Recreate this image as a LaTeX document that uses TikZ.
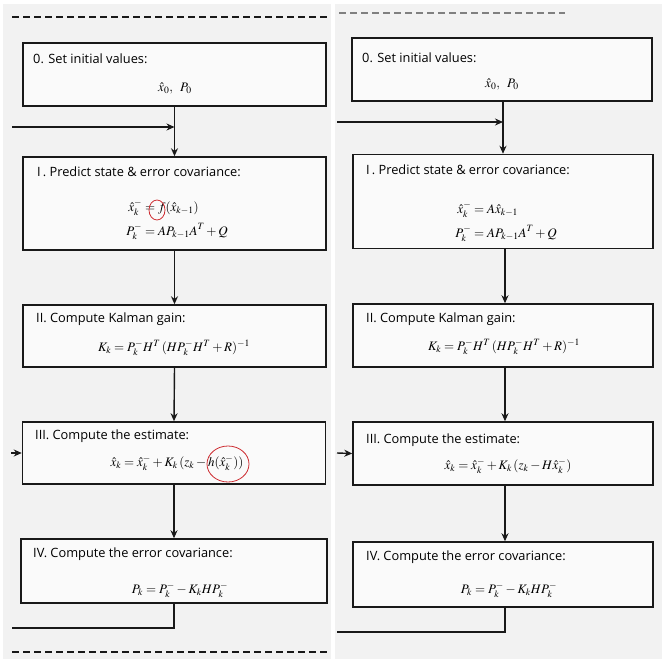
\documentclass[tikz,border=0pt]{standalone}
\usepackage{amsmath}
\usepackage{mathptmx}
\usepackage{fontspec}
\setsansfont{Open Sans}
\usetikzlibrary{arrows.meta,positioning}

\definecolor{paper}{gray}{0.95}
\definecolor{ink}{gray}{0.1}
\definecolor{pen}{RGB}{205,45,50}

\tikzset{
  stage/.style={draw=ink,line width=1.5pt,fill=white!60!paper,minimum width=303pt,inner sep=0pt},
  head/.style={anchor=west,inner sep=0pt,font=\sffamily\fontsize{12.8}{15}\selectfont},
  eq/.style={inner sep=0pt,font=\fontsize{13}{15}\selectfont},
  flow/.style={draw=ink,line width=1.4pt,-{Stealth[length=8pt,width=7pt]}},
  wire/.style={draw=ink,line width=1.4pt},
  cut/.style={draw=ink,line width=1.2pt,dash pattern=on 7pt off 4pt},
}

\begin{document}
\begin{tikzpicture}[x=1pt,y=-1pt]
    \useasboundingbox (0,0) rectangle (665,665);
    \fill[white] (0,0) rectangle (665,665);
    % the two scanned pages
    \fill[paper] (3,4) rectangle (331,659);
    \fill[paper] (335,4) rectangle (662,659);

    %% left page (EKF)
    \draw[cut] (12,17) -- (328,17);
    \draw[cut] (12,652) -- (328,652);

    \node[stage,minimum height=63pt] (L0) at (174.5,74.5) {};
    \node[stage,minimum height=93pt] (L1) at (174.5,203.5) {};
    \node[stage,minimum height=62pt] (L2) at (174.5,336) {};
    \node[stage,minimum height=62pt] (L3) at (174,453) {};
    \node[stage,minimum height=64pt,minimum width=306pt] (L4) at (174,571) {};

    \node[head] (L0h) at (33,59) {0. Set initial values:};
    \node[eq] (L0e) at (175,88) {$\hat{x}_0,\;\;P_0$};
    \node[head] (L1h) at (37,172) {I\,. Predict state \& error covariance:};
    \node[eq] (L1e) at (177,220) {$\begin{aligned}\hat{x}_k^- &= f(\hat{x}_{k-1})\\[4pt] P_k^- &= AP_{k-1}A^T+Q\end{aligned}$};
    \node[head] (L2h) at (36,319) {II. Compute Kalman gain:};
    \node[eq] (L2e) at (174,348) {$K_k=P_k^-H^T\,(HP_k^-H^T+R)^{-1}$};
    \node[head] (L3h) at (35,436) {III. Compute the estimate:};
    \node[eq] (L3e) at (177,463) {$\hat{x}_k=\hat{x}_k^-+K_k\,(z_k-h(\hat{x}_k^-))$};
    \node[head] (L4h) at (33,554) {IV. Compute the error covariance:};
    \node[eq] (L4e) at (180,590) {$P_k=P_k^- -K_kHP_k^-$};

    % red pen marks
    \draw[pen,line width=0.8pt] (157,210) ellipse (8pt and 10pt);
    \draw[pen,line width=0.8pt] (228,464) ellipse (21pt and 18pt);

    \coordinate (Lin) at (12,127);
    \coordinate (Lback) at (12,628);
    \coordinate (Lfeed) at (11,453);
    \draw[flow] (L0.south) -- (L1.north);
    \draw[flow] (Lin) -- (Lin -| L0.south);
    \draw[flow] (L1.south) -- (L2.north);
    \draw[flow] (L2.south) -- (L3.north);
    \draw[flow] (L3.south) -- (L4.north);
    \draw[flow] (Lfeed) -- (L3.west);
    \draw[wire] (L4.south) |- (Lback);

    %% right page (linear KF)
    \draw[cut,draw=gray] (339,13) -- (565,13);

    \node[stage,minimum height=63pt,minimum width=300pt] (R0) at (502,69.5) {};
    \node[stage,minimum height=94pt,minimum width=300pt] (R1) at (503,201.5) {};
    \node[stage,minimum height=63pt,minimum width=300pt] (R2) at (503,335.5) {};
    \node[stage,minimum height=63pt,minimum width=300pt] (R3) at (503,453.5) {};
    \node[stage,minimum height=65pt,minimum width=300pt] (R4) at (503,574.5) {};

    \node[head] (R0h) at (362,58) {0. Set initial values:};
    \node[eq] (R0e) at (502,84) {$\hat{x}_0,\;\;P_0$};
    \node[head] (R1h) at (366,170) {I\,. Predict state \& error covariance:};
    \node[eq] (R1e) at (506,222) {$\begin{aligned}\hat{x}_k^- &= A\hat{x}_{k-1}\\[4pt] P_k^- &= AP_{k-1}A^T+Q\end{aligned}$};
    \node[head] (R2h) at (366,319) {II. Compute Kalman gain:};
    \node[eq] (R2e) at (504,347) {$K_k=P_k^-H^T\,(HP_k^-H^T+R)^{-1}$};
    \node[head] (R3h) at (366,440) {III. Compute the estimate:};
    \node[eq] (R3e) at (508,466) {$\hat{x}_k=\hat{x}_k^-+K_k\,(z_k-H\hat{x}_k^-)$};
    \node[head] (R4h) at (366,557) {IV. Compute the error covariance:};
    \node[eq] (R4e) at (509,590) {$P_k=P_k^- -K_kHP_k^-$};

    \coordinate (Rin) at (337,122);
    \coordinate (Rback) at (337,632);
    \coordinate (Rfeed) at (337,453);
    \draw[flow] (R0.south -| 503,0) -- (R1.north -| 503,0);
    \draw[flow] (Rin) -- (503,122);
    \draw[flow] (R1.south -| 505,0) -- (R2.north -| 505,0);
    \draw[flow] (R2.south -| 505,0) -- (R3.north -| 505,0);
    \draw[flow] (R3.south -| 505,0) -- (R4.north -| 505,0);
    \draw[flow] (Rfeed) -- (R3.west);
    \draw[wire] (R4.south -| 505,0) |- (Rback);
\end{tikzpicture}
\end{document}
